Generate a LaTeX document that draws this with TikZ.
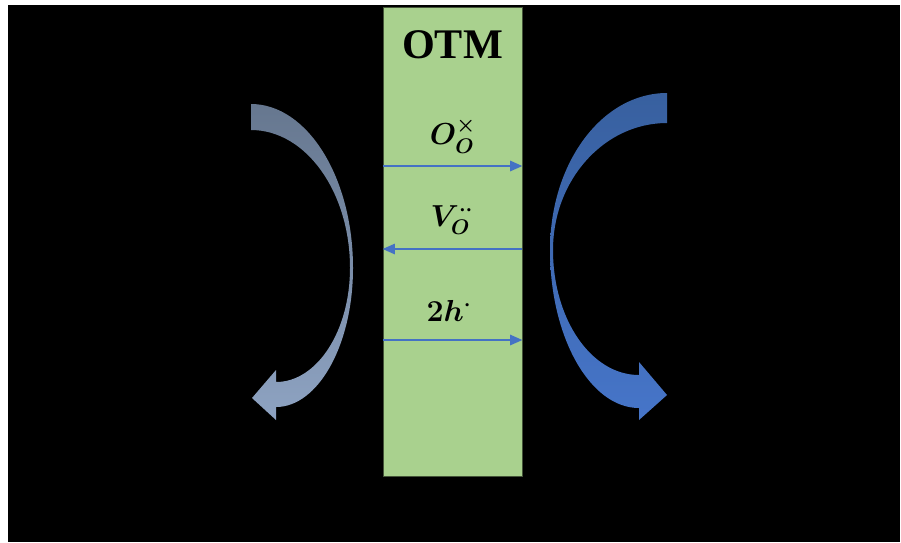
\documentclass[tikz,border=0pt]{standalone}
\usepackage{amsmath}
\usepackage{bm}
\usepackage{fontspec}
\setmainfont{Liberation Serif}
\usepackage{tikz}
\usetikzlibrary{positioning, calc, arrows.meta}

\definecolor{otmgreen}{HTML}{A9D18E}
\definecolor{ionblue}{HTML}{4472C4}
\definecolor{greytop}{HTML}{66778F}
\definecolor{greybot}{HTML}{8EA3C2}
\definecolor{bluetop}{HTML}{38609F}
\definecolor{bluebot}{HTML}{4675C9}

\begin{document}
\begin{tikzpicture}[x=0.02cm, y=-0.02cm,
    membrane/.style={draw=black!60!otmgreen, line width=0.4pt, fill=otmgreen,
        minimum width=2.78cm, minimum height=9.38cm, inner sep=0pt},
    flux/.style={ionblue, line width=0.8pt, -{Triangle[length=7pt,width=6pt]}},
    species/.style={font=\fontsize{17}{20}\selectfont, inner sep=1pt}]
    \useasboundingbox (0,0) rectangle (901,542);
    \fill[black] (8,5) rectangle (900,542);

    % Membrane
    \node[membrane] (otm) at (452.5,241.5) {};
    \node[font=\bfseries\fontsize{24}{28}\selectfont] (title) at (452.5,45) {OTM};

    % Ends of the fluxes
    \coordinate (oxL) at (otm.west |- 0,166);
    \coordinate (oxR) at (otm.east |- 0,166);
    \coordinate (vaL) at (otm.west |- 0,249);
    \coordinate (vaR) at (otm.east |- 0,249);
    \coordinate (hoL) at (otm.west |- 0,340);
    \coordinate (hoR) at (otm.east |- 0,340);

    % Fluxes across the membrane
    \draw[flux] (oxL) -- (oxR);
    \draw[flux] (vaR) -- (vaL);
    \draw[flux] (hoL) -- (hoR);

    % Species
    \node[species] (ox) at (453,136) {$\bm{O_O^{\times}}$};
    \node[species] (va) at (452,220) {$\bm{V_O^{\cdot\cdot}}$};
    \node[species] (ho) at (449,311) {$\bm{2h^{\cdot}}$};

    % Left curved arrow
    \shade[top color=greytop, bottom color=greybot]
        (251,104) .. controls (307,104) and (353,177) .. (353,268)
        .. controls (353,345) and (318,407) .. (276,407)
        -- (276,420) -- (252,398) -- (276,370) -- (276,382)
        .. controls (317,382) and (350,331) .. (350,268)
        .. controls (350,192) and (306,130) .. (251,130) -- cycle;

    % Right curved arrow
    \shade[top color=bluetop, bottom color=bluebot]
        (667,93) .. controls (602,93) and (550,163) .. (550,250)
        .. controls (550,337) and (590,408) .. (639,408)
        -- (639,420) -- (667,395) -- (639,362) -- (639,375)
        .. controls (591,375) and (553,319) .. (553,250)
        .. controls (553,180) and (604,123) .. (667,123) -- cycle;
\end{tikzpicture}
\end{document}
